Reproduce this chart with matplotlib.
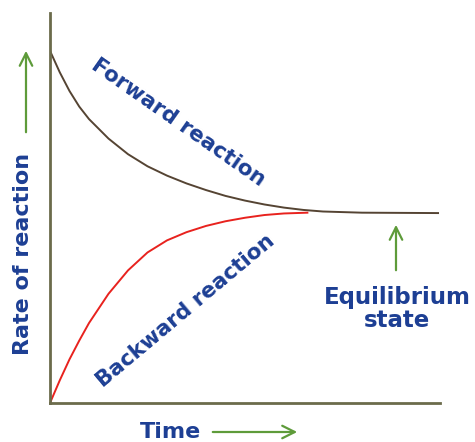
import matplotlib.pyplot as plt

# values (time and rate in arbitrary units)
fwd_time = [0.0, 0.25, 0.5, 0.75, 1.0, 1.5, 2.0, 2.5, 3.0, 3.5, 4.0, 4.5, 5.0, 5.5, 6.0, 6.5, 7.0, 8.0, 9.95]
fwd_rate = [9.03, 8.48, 8.0, 7.6, 7.28, 6.78, 6.38, 6.07, 5.83, 5.63, 5.46, 5.31, 5.19, 5.09, 5.01, 4.95, 4.91, 4.88, 4.87]
bwd_time = [0.0, 0.25, 0.5, 0.75, 1.0, 1.5, 2.0, 2.5, 3.0, 3.5, 4.0, 4.5, 5.0, 5.5, 6.0, 6.6]
bwd_rate = [0.0, 0.58, 1.12, 1.6, 2.05, 2.8, 3.4, 3.86, 4.17, 4.38, 4.54, 4.66, 4.75, 4.82, 4.86, 4.88]

W, H = 475, 442
blue = '#1d3f94'
green = '#5e9b3a'
axis_col = '#6b6b4b'

def fp(x, y):
    # pixel position (from top-left) -> figure fraction
    return x / W, 1 - y / H

fig = plt.figure(figsize=(W / 100, H / 100), dpi=100)
ax = fig.add_axes((50 / W, 1 - 403 / H, 390 / W, 390 / H))
ax.set_xlim(0, 10)
ax.set_ylim(0, 10)
for s in ['top', 'right']:
    ax.spines[s].set_visible(False)
for s in ['left', 'bottom']:
    ax.spines[s].set_color(axis_col)
    ax.spines[s].set_linewidth(2)
ax.set_xticks([])
ax.set_yticks([])

ax.plot(fwd_time, fwd_rate, color='#554433', lw=1.4, solid_joinstyle='round')
ax.plot(bwd_time, bwd_rate, color='#e8221e', lw=1.4, solid_joinstyle='round')

font = dict(color=blue, fontweight='bold', family='DejaVu Sans')
fig.text(*fp(178, 122), 'Forward reaction', fontsize=15.5, rotation=-35,
         ha='center', va='center', rotation_mode='anchor', **font)
fig.text(*fp(186, 311), 'Backward reaction', fontsize=15.5, rotation=40,
         ha='center', va='center', rotation_mode='anchor', **font)
fig.text(*fp(23, 254), 'Rate of reaction', fontsize=16, rotation=90,
         ha='center', va='center', **font)
fig.text(*fp(170, 432), 'Time', fontsize=16, ha='center', va='center', **font)
fig.text(*fp(397, 309), 'Equilibrium\nstate', fontsize=16.5, ha='center',
         va='center', linespacing=1.05, **font)

arrow = dict(arrowstyle='->,head_length=0.9,head_width=0.45', color=green, lw=1.6)
ax.annotate('', xy=fp(26, 48), xytext=fp(26, 135), xycoords='figure fraction',
            textcoords='figure fraction', arrowprops=arrow, annotation_clip=False)
ax.annotate('', xy=fp(300, 432), xytext=fp(210, 432), xycoords='figure fraction',
            textcoords='figure fraction', arrowprops=arrow, annotation_clip=False)
ax.annotate('', xy=fp(396, 222), xytext=fp(396, 273), xycoords='figure fraction',
            textcoords='figure fraction', arrowprops=arrow, annotation_clip=False)

fig.savefig('out.png', dpi=100)
